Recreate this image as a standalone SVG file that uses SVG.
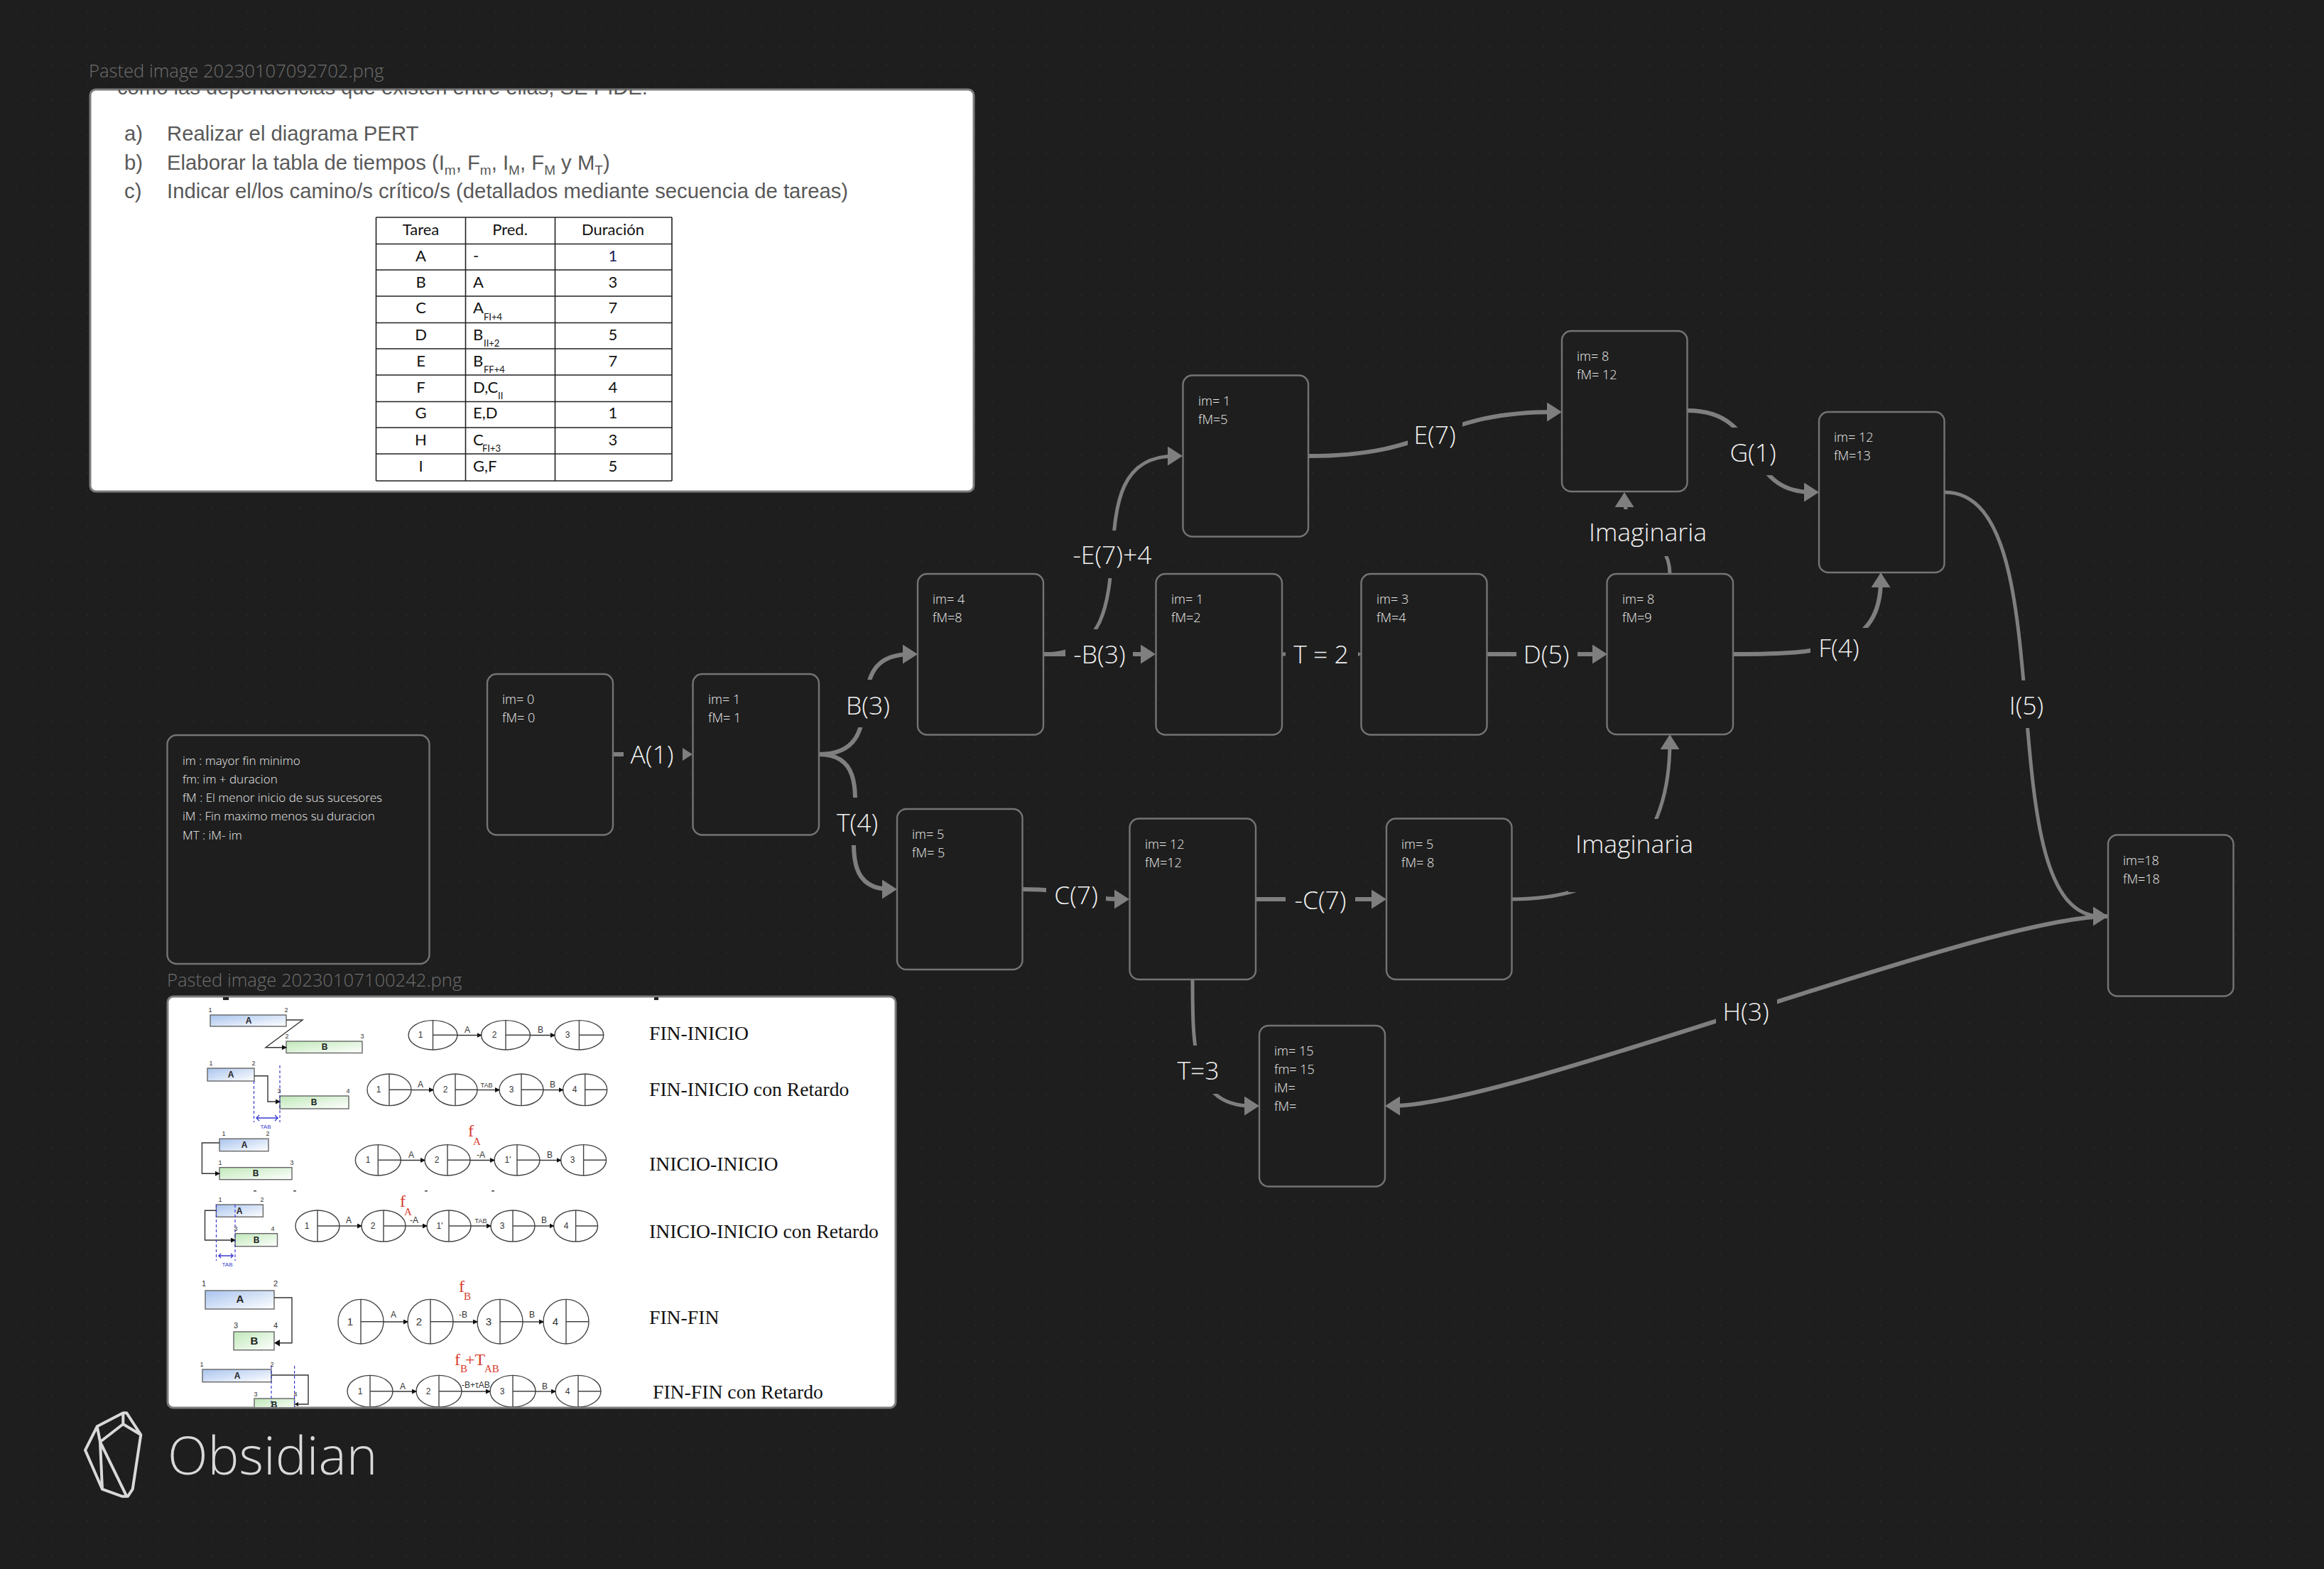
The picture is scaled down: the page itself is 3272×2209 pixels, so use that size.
<svg xmlns="http://www.w3.org/2000/svg" xmlns:xlink="http://www.w3.org/1999/xlink" width="3272" height="2209" viewBox="0 0 3272 2209">
<style>
.bg{fill:#1e1e1e}
.n{fill:#1e1e1e;stroke:#747474;stroke-width:2.4}
.nt{font:300 18px "Open Sans","Noto Sans",sans-serif;fill:#ececec}
.lg{font-size:17px}
.cap{font:300 25.600px "Open Sans","Noto Sans",sans-serif;fill:#6e6e6e}
.e{fill:none;stroke:#7f7f7f;stroke-width:6;marker-end:url(#ah)}
.t{stroke-width:5}
.el{font:300 35.500px "Open Sans","Noto Sans",sans-serif;fill:#f2f2f2;text-anchor:middle}
.fr{fill:#fff;stroke:#7c7c7c;stroke-width:3}
.q{font:29.300px "Liberation Sans",Arial,sans-serif;fill:#595959}
.tb{stroke:#222;stroke-width:1.6;fill:none}
.c{font:22px Lato,"Open Sans",sans-serif;fill:#111;text-anchor:middle}
.l{font:22px Lato,"Open Sans",sans-serif;fill:#111}
.s{font:13px Lato,"Open Sans",sans-serif;fill:#111}
.rt{font:27.700px "Liberation Serif","Times New Roman",serif;fill:#111}
.red{font:24px "Liberation Serif","Times New Roman",serif;fill:#d8392b}
.rs{font:15px "Liberation Serif","Times New Roman",serif;fill:#d8392b}
.barA{fill:url(#ga);stroke:#666;stroke-width:1.4}
.barB{fill:url(#gb);stroke:#666;stroke-width:1.4}
.bl{font:bold 12px "Liberation Sans",Arial,sans-serif;fill:#222;text-anchor:middle}
.k{font:9px "Liberation Sans",Arial,sans-serif;fill:#333;text-anchor:middle}
.m{font:12px "Liberation Sans",Arial,sans-serif;fill:#333;text-anchor:middle}
.w{fill:none;stroke:#333;stroke-width:1.4}
.wa{fill:none;stroke:#333;stroke-width:1.4;marker-end:url(#ma)}
.dash{fill:none;stroke:#3a3ad0;stroke-width:1.2;stroke-dasharray:4 3}
.tab{font:8px "Liberation Sans",Arial,sans-serif;fill:#3a3ad0;text-anchor:middle}
.o{fill:#fff;stroke:#444;stroke-width:1.4;vector-effect:non-scaling-stroke}
.logo{fill:none;stroke:#d9d9d9;stroke-width:4;stroke-linejoin:round}
</style>
<defs>
<pattern id="dots" width="25" height="25" patternUnits="userSpaceOnUse" x="22" y="15"><circle cx="0.8" cy="0.8" r="0.9" fill="#2d2d2d"/></pattern>
<marker id="ah" markerUnits="userSpaceOnUse" markerWidth="21" markerHeight="27" refX="11" refY="13.500" orient="auto"><polygon points="0,0 21,13.500 0,27" fill="#7f7f7f"/></marker>
<marker id="ma" markerUnits="userSpaceOnUse" markerWidth="7" markerHeight="7" refX="6" refY="3.500" orient="auto"><polygon points="0,0 7,3.500 0,7" fill="#111"/></marker>
<linearGradient id="ga" x1="0" y1="0" x2="1" y2="1"><stop offset="0" stop-color="#a9c4ee"/><stop offset="1" stop-color="#fff"/></linearGradient>
<linearGradient id="gb" x1="0" y1="0" x2="1" y2="1"><stop offset="0" stop-color="#bfe8b8"/><stop offset="1" stop-color="#fff"/></linearGradient>
<clipPath id="c1"><rect x="127" y="126" width="1244" height="566" rx="8"/></clipPath>
<clipPath id="c2"><rect x="236" y="1404" width="1025" height="577" rx="8"/></clipPath>
<g id="cc"><ellipse class="o" rx="1" ry="1"/><path class="o" style="fill:none" d="M0-1V1M0 0H1"/></g>
</defs>
<rect class="bg" width="3272" height="2209"/>
<rect fill="url(#dots)" width="3272" height="2209"/>

<g id="image-enunciado">
<text class="cap" x="125" y="109">Pasted image 20230107092702.png</text>
<rect class="fr" x="127" y="126" width="1244" height="566" rx="8"/>
<g clip-path="url(#c1)">
<text class="q" x="165" y="133" textLength="747">como las dependencias que existen entre ellas, SE PIDE:</text>
</g>
<text class="q" x="175" y="198">a)</text><text class="q" x="235" y="198">Realizar el diagrama PERT</text>
<text class="q" x="175" y="239">b)</text><text class="q" x="235" y="239">Elaborar la tabla de tiempos (I<tspan dy="7" font-size="19">m</tspan><tspan dy="-7">, F</tspan><tspan dy="7" font-size="19">m</tspan><tspan dy="-7">, I</tspan><tspan dy="7" font-size="19">M</tspan><tspan dy="-7">, F</tspan><tspan dy="7" font-size="19">M</tspan><tspan dy="-7"> y M</tspan><tspan dy="7" font-size="19">T</tspan><tspan dy="-7">)</tspan></text>
<text class="q" x="175" y="279">c)</text><text class="q" x="235" y="279">Indicar el/los camino/s crítico/s (detallados mediante secuencia de tareas)</text>
<path class="tb" d="M529.500 306H946M529.500 343.500H946M529.500 380H946M529.500 417H946M529.500 454.500H946M529.500 491H946M529.500 528H946M529.500 565.500H946M529.500 602H946M529.500 639H946M529.500 677H946M529.500 306V677M655.500 306V677M781.500 306V677M946 306V677"/>
<text class="c" x="592.500" y="331">Tarea</text><text class="c" x="718" y="331">Pred.</text><text class="c" x="863" y="331">Duración</text>
<text class="c" x="592.500" y="368">A</text><text class="l" x="666" y="368">-</text><text class="c" x="863" y="368" style="fill:#1a1a60">1</text>
<text class="c" x="592.500" y="405">B</text><text class="l" x="666" y="405">A</text><text class="c" x="863" y="405">3</text>
<text class="c" x="592.500" y="441">C</text><text class="l" x="666" y="441">A</text><text class="s" x="681" y="451">FI+4</text><text class="c" x="863" y="441">7</text>
<text class="c" x="592.500" y="479">D</text><text class="l" x="666" y="479">B</text><text class="s" x="681" y="488">II+2</text><text class="c" x="863" y="479">5</text>
<text class="c" x="592.500" y="516">E</text><text class="l" x="666" y="516">B</text><text class="s" x="681" y="525">FF+4</text><text class="c" x="863" y="516">7</text>
<text class="c" x="592.500" y="553">F</text><text class="l" x="666" y="553">D,C</text><text class="s" x="701" y="562">II</text><text class="c" x="863" y="553">4</text>
<text class="c" x="592.500" y="589">G</text><text class="l" x="666" y="589">E,D</text><text class="c" x="863" y="589">1</text>
<text class="c" x="592.500" y="627">H</text><text class="l" x="666" y="627">C</text><text class="s" x="679" y="636">FI+3</text><text class="c" x="863" y="627">3</text>
<text class="c" x="592.500" y="664">I</text><text class="l" x="666" y="664">G,F</text><text class="c" x="863" y="664">5</text>
</g>

<g id="image-dependencias">
<text class="cap" x="235" y="1389">Pasted image 20230107100242.png</text>
<rect class="fr" x="236" y="1403" width="1025" height="579" rx="8"/>
<g clip-path="url(#c2)">
<path d="M314 1403h8v5h-8zM921 1403h6v5h-6z" fill="#222"/>
<!-- row 1 -->
<rect class="barA" x="296" y="1429" width="107" height="16"/><rect class="barB" x="403" y="1466" width="107" height="16.500"/>
<path class="wa" d="M403 1436H426L374 1474.700H403"/>
<text class="bl" x="350" y="1441">A</text><text class="bl" x="457" y="1478">B</text>
<text class="k" x="296" y="1425">1</text><text class="k" x="403" y="1425">2</text><text class="k" x="404" y="1462">2</text><text class="k" x="510" y="1462">3</text>
<use xlink:href="#cc" href="#cc" transform="translate(609.500,1457.300) scale(34.400,20.700)"/><use xlink:href="#cc" href="#cc" transform="translate(712,1457.300) scale(34.400,20.700)"/><use xlink:href="#cc" href="#cc" transform="translate(815.400,1457.300) scale(34.400,20.700)"/>
<path class="wa" d="M644 1457.500H677.600"/><path class="wa" d="M746.400 1457.500H781"/>
<text class="m" x="592" y="1461">1</text><text class="m" x="696" y="1461">2</text><text class="m" x="799" y="1461">3</text><text class="m" x="658" y="1454">A</text><text class="m" x="761" y="1454">B</text>
<text class="rt" x="914" y="1463.500">FIN-INICIO</text>
<!-- row 2 -->
<rect class="barA" x="292" y="1504" width="66" height="18"/><rect class="barB" x="394" y="1543" width="97" height="18"/>
<path class="wa" d="M358 1514.700H377V1551H394"/>
<path class="dash" d="M357.500 1522V1580M394 1500V1580"/><path class="w" style="stroke:#3a3ad0" d="M361 1574H391M365 1570L361 1574L365 1578M387 1570L391 1574L387 1578"/>
<text class="tab" x="374" y="1589">TAB</text>
<text class="bl" x="325" y="1517">A</text><text class="bl" x="442" y="1556">B</text>
<text class="k" x="297" y="1500">1</text><text class="k" x="357" y="1500">2</text><text class="k" x="393" y="1539">3</text><text class="k" x="490" y="1539">4</text>
<use xlink:href="#cc" href="#cc" transform="translate(548,1534.300) scale(31,22.300)"/><use xlink:href="#cc" href="#cc" transform="translate(641,1534.300) scale(31,22.300)"/><use xlink:href="#cc" href="#cc" transform="translate(734,1534.300) scale(31,22.300)"/><use xlink:href="#cc" href="#cc" transform="translate(823.700,1534.300) scale(31,22.300)"/>
<path class="wa" d="M579 1534.500H610"/><path class="wa" d="M672 1534.500H703"/><path class="wa" d="M765 1534.500H792.700"/>
<text class="m" x="533" y="1538">1</text><text class="m" x="627" y="1538">2</text><text class="m" x="720" y="1538">3</text><text class="m" x="809" y="1538">4</text><text class="m" x="592" y="1531">A</text><text class="k" x="685" y="1531">TAB</text><text class="m" x="778" y="1531">B</text>
<text class="rt" x="914" y="1542.500">FIN-INICIO con Retardo</text>
<!-- row 3 -->
<rect class="barA" x="309" y="1603.300" width="69" height="17.400"/><rect class="barB" x="309" y="1643.700" width="102" height="17"/>
<path class="wa" d="M309 1609H284.400V1652.300H309"/>
<text class="bl" x="344" y="1616">A</text><text class="bl" x="360" y="1656">B</text>
<text class="k" x="315" y="1599">1</text><text class="k" x="377" y="1599">2</text><text class="k" x="310" y="1640">1</text><text class="k" x="411" y="1640">3</text>
<use xlink:href="#cc" href="#cc" transform="translate(532.300,1633.300) scale(32,21.700)"/><use xlink:href="#cc" href="#cc" transform="translate(630,1633.300) scale(32,21.700)"/><use xlink:href="#cc" href="#cc" transform="translate(728,1633.300) scale(32,21.700)"/><use xlink:href="#cc" href="#cc" transform="translate(821.600,1633.300) scale(32,21.700)"/>
<path class="wa" d="M564 1633.500H598"/><path class="wa" d="M662 1633.500H696"/><path class="wa" d="M760 1633.500H789.600"/>
<text class="m" x="518" y="1637">1</text><text class="m" x="615" y="1637">2</text><text class="m" x="715" y="1637">1'</text><text class="m" x="806" y="1637">3</text><text class="m" x="579" y="1630">A</text><text class="m" x="677" y="1630">-A</text><text class="m" x="774" y="1630">B</text>
<text class="red" x="659" y="1600">f</text><text class="rs" x="666" y="1612">A</text>
<text class="rt" x="914" y="1647.500">INICIO-INICIO</text>
<path d="M357 1676h4v1.500h-4zM413 1676h4v1.500h-4zM598 1676h4v1.500h-4zM692 1676h4v1.500h-4z" fill="#444"/>
<!-- row 4 -->
<rect class="barA" x="304.400" y="1696" width="66" height="17.300"/><rect class="barB" x="331" y="1736.700" width="59.500" height="18"/>
<path class="wa" d="M304.400 1704.300H288.500V1746H331"/>
<path class="dash" d="M304.500 1696V1775M331 1696V1775"/><path class="w" style="stroke:#3a3ad0" d="M308 1768H328M311 1765L308 1768L311 1771M325 1765L328 1768L325 1771"/>
<text class="tab" x="320" y="1783">TAB</text>
<text class="bl" x="337" y="1709">A</text><text class="bl" x="361" y="1750">B</text>
<text class="k" x="310" y="1692">1</text><text class="k" x="369" y="1692">2</text><text class="k" x="332" y="1733">3</text><text class="k" x="384" y="1733">4</text>
<use xlink:href="#cc" href="#cc" transform="translate(447,1726) scale(31,22)"/><use xlink:href="#cc" href="#cc" transform="translate(540,1726) scale(31,22)"/><use xlink:href="#cc" href="#cc" transform="translate(632,1726) scale(31,22)"/><use xlink:href="#cc" href="#cc" transform="translate(722,1726) scale(31,22)"/><use xlink:href="#cc" href="#cc" transform="translate(810.600,1726) scale(31,22)"/>
<path class="wa" d="M478 1726H509"/><path class="wa" d="M571 1726H601"/><path class="wa" d="M663 1726H691"/><path class="wa" d="M753 1726H779.600"/>
<text class="m" x="432" y="1730">1</text><text class="m" x="525" y="1730">2</text><text class="m" x="619" y="1730">1'</text><text class="m" x="707" y="1730">3</text><text class="m" x="797" y="1730">4</text><text class="m" x="491" y="1722">A</text><text class="m" x="583" y="1722">-A</text><text class="k" x="677" y="1722">TAB</text><text class="m" x="766" y="1722">B</text>
<text class="red" x="563" y="1699">f</text><text class="rs" x="569" y="1711">A</text>
<text class="rt" x="914" y="1742.500">INICIO-INICIO con Retardo</text>
<!-- row 5 -->
<rect class="barA" x="289" y="1817" width="97" height="26"/><rect class="barB" x="329" y="1875" width="57" height="25.700"/>
<path class="w" d="M386 1827H411V1890.700H390"/><polygon points="386,1890.700 394,1886 394,1895.400" fill="#111"/>
<text class="bl" x="338" y="1834" style="font-size:15px">A</text><text class="bl" x="358" y="1893" style="font-size:15px">B</text>
<text class="k" x="287" y="1811" style="font-size:11px">1</text><text class="k" x="388" y="1811" style="font-size:11px">2</text><text class="k" x="332" y="1870" style="font-size:11px">3</text><text class="k" x="388" y="1870" style="font-size:11px">4</text>
<use xlink:href="#cc" href="#cc" transform="translate(508,1860.700) scale(32,31.300)"/><use xlink:href="#cc" href="#cc" transform="translate(606,1860.700) scale(32,31.300)"/><use xlink:href="#cc" href="#cc" transform="translate(704,1860.700) scale(32,31.300)"/><use xlink:href="#cc" href="#cc" transform="translate(797,1860.700) scale(32,31.300)"/>
<path class="wa" d="M540 1861H574"/><path class="wa" d="M638 1861H672"/><path class="wa" d="M736 1861H765"/>
<text class="m" x="493" y="1866" style="font-size:15px">1</text><text class="m" x="590" y="1866" style="font-size:15px">2</text><text class="m" x="688" y="1866" style="font-size:15px">3</text><text class="m" x="782" y="1866" style="font-size:15px">4</text><text class="m" x="554" y="1855">A</text><text class="m" x="652" y="1855">-B</text><text class="m" x="749" y="1855">B</text>
<text class="red" x="646" y="1819">f</text><text class="rs" x="653" y="1830">B</text>
<text class="rt" x="914" y="1863.500">FIN-FIN</text>
<!-- row 6 -->
<rect class="barA" x="285" y="1928" width="97" height="17.700"/><rect class="barB" x="358" y="1969" width="56.600" height="18"/>
<path class="w" d="M382 1936H434V1977H418"/><polygon points="414.600,1977 420,1974 420,1980" fill="#111"/>
<path class="dash" d="M382 1923V1985M414.600 1923V1985"/>
<text class="bl" x="334" y="1941">A</text><text class="bl" x="386" y="1982">B</text>
<text class="k" x="284" y="1924">1</text><text class="k" x="383" y="1924">2</text><text class="k" x="360" y="1966">3</text><text class="k" x="416" y="1966">4</text>
<use xlink:href="#cc" href="#cc" transform="translate(521,1958.700) scale(32,22.300)"/><use xlink:href="#cc" href="#cc" transform="translate(618,1958.700) scale(32,22.300)"/><use xlink:href="#cc" href="#cc" transform="translate(722,1958.700) scale(32,22.300)"/><use xlink:href="#cc" href="#cc" transform="translate(814,1958.700) scale(32,22.300)"/>
<path class="wa" d="M553 1959H586"/><path class="wa" d="M650 1959H690"/><path class="wa" d="M754 1959H782"/>
<text class="m" x="507" y="1963">1</text><text class="m" x="603" y="1963">2</text><text class="m" x="707" y="1963">3</text><text class="m" x="799" y="1963">4</text><text class="m" x="567" y="1956">A</text><text class="m" x="670" y="1954">-B+τAB</text><text class="m" x="767" y="1956">B</text>
<text class="red" x="640" y="1922">f</text><text class="rs" x="648" y="1932">B</text><text class="red" x="655" y="1922">+T</text><text class="rs" x="682" y="1932">AB</text>
<text class="rt" x="919" y="1968.500">FIN-FIN con Retardo</text>
</g>
</g>

<g id="connectors">
<path class="e" d="M863 1062H965"/>
<path class="e" d="M1153 1062C1263 1062 1172 921 1282 921"/>
<path class="e" d="M1153 1062C1263 1062 1143 1252 1253 1252"/>
<path class="e" d="M1469 921H1617"/>
<path class="e t" d="M1469 921C1639 921 1495 642 1655 642"/>
<path class="e" d="M1842 642C2022 642 2019 580 2189 580"/>
<path class="e t" d="M1805 921H1907"/>
<path class="e" d="M2093 921H2253"/>
<path class="e t" d="M2351 808C2351 750 2287 750 2287 703"/>
<path class="e" d="M2440 921C2570 921 2648 915 2648 816"/>
<path class="e" d="M2376 578C2486 578 2451 693 2551 693"/>
<path class="e t" d="M2738 693C2913 693 2793 1290 2958 1290"/>
<path class="e" d="M1440 1252C1510 1252 1520 1266 1580 1266"/>
<path class="e" d="M1768 1266H1942"/>
<path class="e t" d="M2129 1266C2279 1266 2351 1184 2351 1044"/>
<path class="e t" d="M1679 1379C1679 1480 1680 1557 1763 1557"/>
<path class="e" d="M2968 1290C2790 1290 2128 1557 1960 1557"/>
<g class="bg">
<rect x="878" y="1028" width="83" height="68"/><rect x="1185" y="957" width="75" height="67"/><rect x="1170" y="1123" width="75" height="67"/>
<rect x="1500" y="886" width="95" height="69"/><rect x="1505" y="747" width="125" height="67"/><rect x="1982" y="580" width="77" height="67"/>
<rect x="1810" y="887" width="102" height="67"/><rect x="2135" y="887" width="86" height="67"/><rect x="2549" y="884" width="81" height="66"/>
<rect x="2432" y="602" width="73" height="67"/><rect x="2820" y="958" width="66" height="67"/><rect x="1473" y="1225" width="84" height="67"/>
<rect x="1810" y="1232" width="98" height="67"/><rect x="2238" y="717" width="164" height="66"/><rect x="2208" y="1153" width="185" height="103"/>
<rect x="1650" y="1472" width="74" height="68"/><rect x="2416" y="1391" width="86" height="67"/>
</g>
<text class="el" x="918" y="1075">A(1)</text>
<text class="el" x="1222" y="1006">B(3)</text>
<text class="el" x="1207" y="1171">T(4)</text>
<text class="el" x="1548" y="934">-B(3)</text>
<text class="el" x="1566" y="794">-E(7)+4</text>
<text class="el" x="2020" y="625">E(7)</text>
<text class="el" x="1860" y="934">T = 2</text>
<text class="el" x="2177" y="934">D(5)</text>
<text class="el" x="2589" y="925">F(4)</text>
<text class="el" x="2468" y="650">G(1)</text>
<text class="el" x="2853" y="1006">I(5)</text>
<text class="el" x="1515" y="1273">C(7)</text>
<text class="el" x="1859" y="1280">-C(7)</text>
<text class="el" x="2320" y="762">Imaginaria</text>
<text class="el" x="2301" y="1201">Imaginaria</text>
<text class="el" x="1687" y="1520">T=3</text>
<text class="el" x="2458" y="1437">H(3)</text>
</g>

<g id="legend"><rect class="n" x="235.500" y="1035" width="369" height="322" rx="13"/>
<text class="nt lg"><tspan x="257" y="1077">im : mayor fin minimo</tspan><tspan x="257" y="1103">fm: im + duracion</tspan><tspan x="257" y="1129">fM : El menor inicio de sus sucesores</tspan><tspan x="257" y="1155">iM : Fin maximo menos su duracion</tspan><tspan x="257" y="1181.500">MT : iM- im</tspan></text></g>
<g id="n0"><rect class="n" x="686" y="949" width="177" height="226.500" rx="13"/><text class="nt"><tspan x="707" y="991">im= 0</tspan><tspan x="707" y="1017">fM= 0</tspan></text></g>
<g id="n1"><rect class="n" x="975.500" y="949" width="177.500" height="226.500" rx="13"/><text class="nt"><tspan x="997" y="991">im= 1</tspan><tspan x="997" y="1017">fM= 1</tspan></text></g>
<g id="n2"><rect class="n" x="1292" y="808" width="177" height="226.500" rx="13"/><text class="nt"><tspan x="1313" y="850">im= 4</tspan><tspan x="1313" y="876">fM=8</tspan></text></g>
<g id="n3"><rect class="n" x="1665.500" y="528.500" width="176.500" height="227" rx="13"/><text class="nt"><tspan x="1687" y="571">im= 1</tspan><tspan x="1687" y="597">fM=5</tspan></text></g>
<g id="n4"><rect class="n" x="1627.500" y="808" width="177.500" height="226.500" rx="13"/><text class="nt"><tspan x="1649" y="850">im= 1</tspan><tspan x="1649" y="876">fM=2</tspan></text></g>
<g id="n5"><rect class="n" x="1916.500" y="808" width="177" height="226.500" rx="13"/><text class="nt"><tspan x="1938" y="850">im= 3</tspan><tspan x="1938" y="876">fM=4</tspan></text></g>
<g id="n6"><rect class="n" x="2199" y="466" width="176.500" height="226" rx="13"/><text class="nt"><tspan x="2220" y="508">im= 8</tspan><tspan x="2220" y="534">fM= 12</tspan></text></g>
<g id="n7"><rect class="n" x="2262.500" y="808" width="177.500" height="226" rx="13"/><text class="nt"><tspan x="2284" y="850">im= 8</tspan><tspan x="2284" y="876">fM=9</tspan></text></g>
<g id="n8"><rect class="n" x="2561" y="580" width="176.500" height="226" rx="13"/><text class="nt"><tspan x="2582" y="622">im= 12</tspan><tspan x="2582" y="648">fM=13</tspan></text></g>
<g id="n9"><rect class="n" x="1263" y="1139" width="176.500" height="226" rx="13"/><text class="nt"><tspan x="1284" y="1181">im= 5</tspan><tspan x="1284" y="1207">fM= 5</tspan></text></g>
<g id="n10"><rect class="n" x="1590.500" y="1152.500" width="177.500" height="226.500" rx="13"/><text class="nt"><tspan x="1612" y="1195">im= 12</tspan><tspan x="1612" y="1221">fM=12</tspan></text></g>
<g id="n11"><rect class="n" x="1952" y="1152.500" width="176.500" height="226.500" rx="13"/><text class="nt"><tspan x="1973" y="1195">im= 5</tspan><tspan x="1973" y="1221">fM= 8</tspan></text></g>
<g id="n12"><rect class="n" x="1773" y="1444" width="177" height="226.500" rx="13"/><text class="nt"><tspan x="1794" y="1486">im= 15</tspan><tspan x="1794" y="1512">fm= 15</tspan><tspan x="1794" y="1538">iM=</tspan><tspan x="1794" y="1564">fM=</tspan></text></g>
<g id="n13"><rect class="n" x="2968" y="1175.500" width="176.500" height="227" rx="13"/><text class="nt"><tspan x="2989" y="1218">im=18</tspan><tspan x="2989" y="1244">fM=18</tspan></text></g>

<g id="brand">
<path class="logo" d="M120 2041.700L136.700 2008.300L173.300 1989.300H178.300L198.300 2020L186.700 2096.700L180 2106.700H171.700L144 2096.700ZM136.700 2008.300L141 2030L144 2096.700M141 2030L173.300 2005V1989.300M173.300 2005L198.300 2020M141 2030L178.300 2106.700"/>
<text x="236" y="2075.700" style="font:300 74px 'Open Sans','Noto Sans',sans-serif;fill:#d9d9d9">Obsidian</text>
</g>
</svg>
